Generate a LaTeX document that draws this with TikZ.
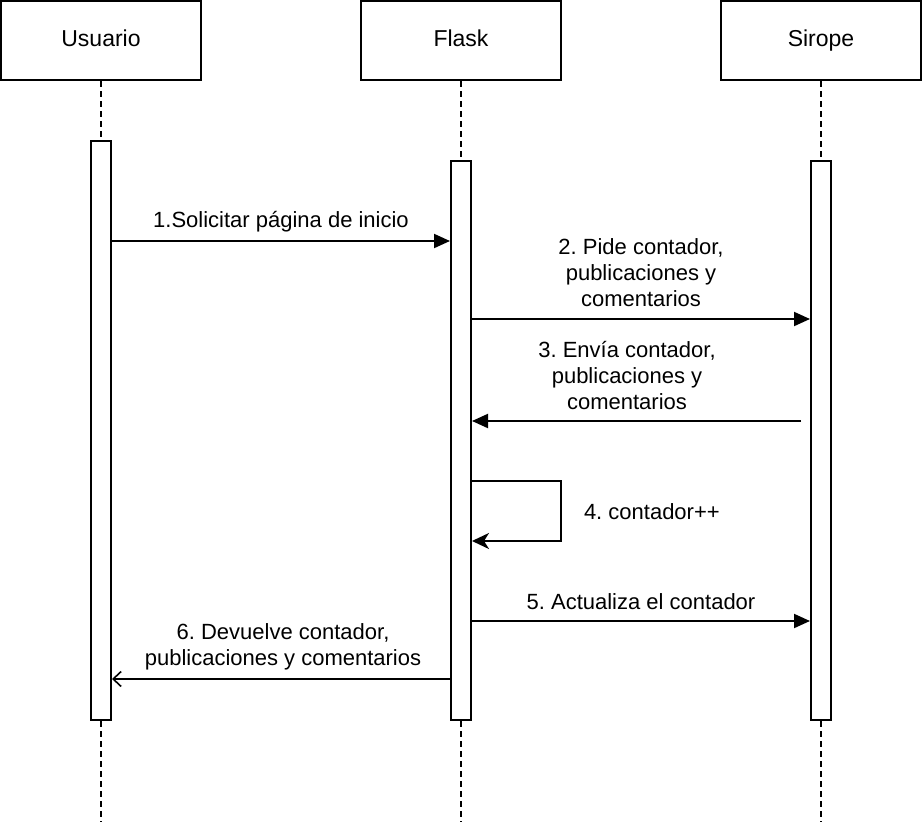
\documentclass[tikz,border=0pt]{standalone}
\usepackage{fontspec}
\setmainfont{Liberation Sans}
\frenchspacing
\usetikzlibrary{positioning,arrows.meta,calc}

\begin{document}
\begin{tikzpicture}[x=1pt,y=-1pt,line width=2pt,
    every node/.style={font=\fontsize{22}{26}\selectfont},
    header/.style={draw,rectangle,minimum width=200pt,minimum height=79pt,inner sep=0pt,
      font=\fontsize{23}{27}\selectfont,text height=16.5pt,text depth=5.5pt},
    lifeline/.style={dash pattern=on 6pt off 4pt},
    actbar/.style={draw,fill=white,rectangle,minimum width=20pt,inner sep=0pt},
    msg/.style={-{Triangle[length=16pt,width=14pt]}},
    selfmsg/.style={-{Stealth[length=17pt,width=16pt,inset=5pt]}},
    reply/.style={-{Straight Barb[length=8pt,width=15pt,line width=1.6pt]}},
    msglabel/.style={align=center,inner sep=0pt}]
\useasboundingbox (0,0) rectangle (922,822);

% participants
\node[header] (usuario) at (101,40.5) {Usuario};
\node[header] (flask) at (461,40.5) {Flask};
\node[header] (sirope) at (821,40.5) {Sirope};

% lifelines
\coordinate (uend) at (101,822);
\coordinate (fend) at (461,822);
\coordinate (send) at (821,822);
\draw[lifeline] (usuario.south) -- (uend);
\draw[lifeline] (flask.south) -- (fend);
\draw[lifeline] (sirope.south) -- (send);

% activation bars
\node[actbar,minimum height=579pt] (ubar) at (101,430.5) {};
\node[actbar,minimum height=559pt] (fbar) at (461,440.5) {};
\node[actbar,minimum height=559pt] (sbar) at (821,440.5) {};

% message levels
\coordinate (m1) at (0,241);
\coordinate (m2) at (0,319);
\coordinate (m3) at (801,421);
\coordinate (m4a) at (0,481);
\coordinate (m4c) at (561,541);
\coordinate (m5) at (0,621);
\coordinate (m6) at (0,679);

% messages
\draw[msg] (ubar.east |- m1) -- (fbar.west |- m1);
\node[msglabel] (l1) at (281,222) {1.Solicitar página de inicio};

\draw[msg] (fbar.east |- m2) -- (sbar.west |- m2);
\node[msglabel] (l2) at (641,273) {2. Pide contador,\\publicaciones y\\comentarios};

\draw[msg] (m3) -- (fbar.east |- m3);
\node[msglabel] (l3) at (627,376) {3. Envía contador,\\publicaciones y\\comentarios};

\draw[selfmsg] (fbar.east |- m4a) -| (m4c) -- (fbar.east |- m4c);
\node[msglabel,anchor=west] (l4) at (583,512) {4. contador++};

\draw[msg] (fbar.east |- m5) -- (sbar.west |- m5);
\node[msglabel] (l5) at (641,602) {5. Actualiza el contador};

\draw[reply] (fbar.west |- m6) -- (ubar.east |- m6);
\node[msglabel] (l6) at (283,647) {6. Devuelve contador,\\publicaciones y comentarios};
\end{tikzpicture}
\end{document}
